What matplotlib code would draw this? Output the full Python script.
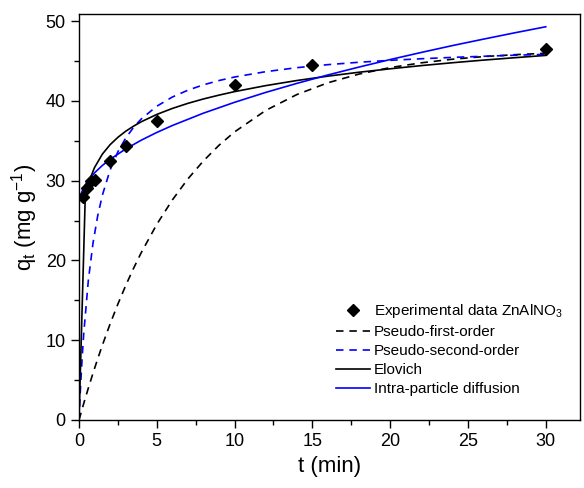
import numpy as np
import matplotlib.pyplot as plt
from matplotlib.ticker import MultipleLocator

plt.rcParams['font.family'] = ['Liberation Sans', 'DejaVu Sans']
plt.rcParams['mathtext.fontset'] = 'custom'
plt.rcParams['mathtext.rm'] = 'Liberation Sans'
plt.rcParams['mathtext.it'] = 'Liberation Sans:italic'

# experimental uptake, ZnAlNO3
t_exp = [0.25, 0.5, 0.75, 1, 2, 3, 5, 10, 15, 30]
q_exp = [27.9, 29.1, 30.0, 30.1, 32.5, 34.4, 37.5, 42.0, 44.5, 46.5]

# pseudo-first-order fit
t_pfo = [0, 0.3, 0.6, 0.9, 1.2, 1.5, 2, 2.5, 3, 3.5, 4, 5, 6, 7, 8, 9, 10,
         12, 14, 16, 18, 20, 22, 24, 26, 28, 30]
q_pfo = [0, 2.05, 4.00, 5.87, 7.66, 9.37, 12.05, 14.54, 16.85, 18.99, 20.98,
         24.53, 27.59, 30.23, 32.49, 34.45, 36.12, 38.81, 40.80, 42.28, 43.37,
         44.18, 44.78, 45.23, 45.56, 45.80, 45.98]

# pseudo-second-order fit
t_pso = [0, 0.1, 0.2, 0.3, 0.6, 0.9, 1.2, 1.5, 2, 2.5, 3, 3.5, 4, 5, 6, 7, 8,
         9, 10, 12, 14, 16, 18, 20, 22, 24, 26, 28, 30]
q_pso = [0, 4.22, 7.75, 10.74, 17.51, 22.17, 25.58, 28.17, 31.35, 33.63, 35.34,
         36.67, 37.74, 39.34, 40.49, 41.35, 42.02, 42.56, 43.00, 43.67, 44.17,
         44.55, 44.85, 45.09, 45.29, 45.46, 45.60, 45.73, 45.84]

# Elovich fit
t_elo = [0, 0.4, 0.7, 1, 1.5, 2, 2.5, 3, 3.5, 4, 5, 6, 7, 8, 9, 10, 12, 14,
         16, 18, 20, 22, 24, 26, 28, 30]
q_elo = [0, 27.88, 30.19, 31.66, 33.33, 34.52, 35.44, 36.20, 36.83, 37.39,
         38.31, 39.06, 39.70, 40.25, 40.73, 41.17, 41.92, 42.56, 43.11, 43.60,
         44.03, 44.43, 44.79, 45.12, 45.42, 45.71]

# intra-particle diffusion fit
t_ipd = [0, 0.03, 0.1, 0.3, 0.6, 1, 1.5, 2, 3, 4, 5, 6, 8, 10, 12, 14, 16,
         18, 20, 22, 24, 26, 28, 30]
q_ipd = [26.90, 27.61, 28.19, 29.14, 30.07, 30.99, 31.91, 32.68, 33.98, 35.08,
         36.05, 36.92, 38.47, 39.83, 41.07, 42.20, 43.26, 44.25, 45.19, 46.08,
         46.94, 47.75, 48.54, 49.30]

fig = plt.figure(figsize=(5.84, 4.88), dpi=100)
ax = fig.add_axes([79 / 584, 68 / 488, 501 / 584, 406 / 488])

dash = (0, (4.5, 3.5))
ax.plot(t_exp, q_exp, 'D', color='black', ms=6.5, ls='none', zorder=5,
        label='Experimental data ZnAlNO$_3$')
ax.plot(t_pfo, q_pfo, color='black', lw=1.2, ls=dash, label='Pseudo-first-order')
ax.plot(t_pso, q_pso, color='#0000ff', lw=1.2, ls=dash, label='Pseudo-second-order')
ax.plot(t_elo, q_elo, color='black', lw=1.2, label='Elovich')
ax.plot(t_ipd, q_ipd, color='#0000ff', lw=1.2, label='Intra-particle diffusion')

ax.set_xlim(0, 32.2)
ax.set_ylim(0, 50.9)
ax.xaxis.set_major_locator(MultipleLocator(5))
ax.xaxis.set_minor_locator(MultipleLocator(2.5))
ax.yaxis.set_major_locator(MultipleLocator(10))
ax.yaxis.set_minor_locator(MultipleLocator(5))
ax.tick_params(which='both', direction='out', top=False, right=False,
               width=1.0, labelsize=13)
ax.tick_params(which='major', length=5.5, pad=4)
ax.tick_params(which='minor', length=3.5)
for s in ax.spines.values():
    s.set_linewidth(1.0)

ax.set_xlabel('t (min)', fontsize=16, labelpad=4)
ax.set_ylabel('q$_\\mathrm{t}$ (mg g$^{-1}$)', fontsize=16, labelpad=4)

ax.legend(loc='upper left', bbox_to_anchor=(0.513, 0.29), frameon=False,
          fontsize=11, handlelength=2.2, handletextpad=0.3, labelspacing=0.33,
          borderpad=0, borderaxespad=0)

fig.savefig('out.png', dpi=100)
